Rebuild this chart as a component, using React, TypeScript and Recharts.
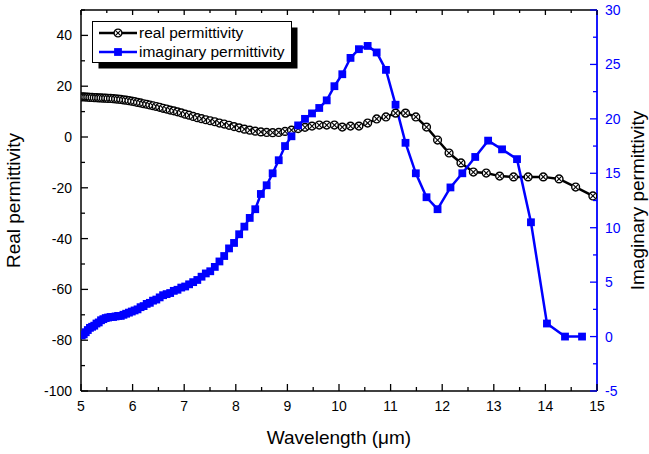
import React from 'react';
import { LineChart, Line, XAxis, YAxis, Legend } from 'recharts';

// wavelength (µm) and real part of permittivity
const realWavelength = [
  5.014, 5.053, 5.092, 5.132, 5.173, 5.215, 5.257, 5.3, 5.344, 5.388, 5.433, 5.479, 5.525, 5.573, 5.621, 5.67, 5.72, 5.771, 5.823, 5.875, 5.929, 5.984,
  6.039, 6.096, 6.154, 6.213, 6.273, 6.334, 6.396, 6.46, 6.525, 6.591, 6.659, 6.728, 6.798, 6.87, 6.943,
  7.019, 7.095, 7.174, 7.254, 7.336, 7.419, 7.505, 7.593, 7.683, 7.775, 7.869, 7.966,
  8.065, 8.166, 8.27, 8.377, 8.486, 8.598, 8.714, 8.832, 8.954,
  9.079, 9.208, 9.341, 9.477, 9.617, 9.762, 9.911,
  10.064, 10.223, 10.386, 10.555, 10.73, 10.91,
  11.096, 11.289, 11.489, 11.696, 11.91,
  12.133, 12.364, 12.604, 12.853,
  13.113, 13.383, 13.665, 13.959,
  14.265, 14.586, 14.92,
];
const realValue = [
  15.8, 15.8, 15.7, 15.7, 15.6, 15.6, 15.5, 15.5, 15.4, 15.4, 15.3, 15.3, 15.2, 15.2, 15.1, 15.0, 14.9, 14.8, 14.6, 14.5, 14.3, 14.1,
  13.9, 13.6, 13.4, 13.1, 12.9, 12.6, 12.3, 12.0, 11.7, 11.3, 11.0, 10.6, 10.3, 9.9, 9.5,
  9.0, 8.6, 8.1, 7.6, 7.2, 6.8, 6.4, 6.0, 5.5, 5.1, 4.6, 4.1,
  3.6, 3.1, 2.7, 2.3, 2.0, 1.8, 1.7, 1.8, 2.2,
  2.7, 3.3, 3.8, 4.3, 4.7, 4.7, 4.7,
  3.9, 4.3, 4.3, 5.5, 7.1, 7.9,
  9.4, 9.4, 7.9, 3.9, -1.2,
  -6.3, -10.2, -13.8, -14.2,
  -15.4, -15.7, -15.7, -15.7,
  -16.5, -19.7, -23.2,
];

// wavelength (µm) and imaginary part of permittivity
const imagWavelength = [
  5.014, 5.053, 5.092, 5.132, 5.173, 5.215, 5.257, 5.3, 5.344, 5.388, 5.433, 5.479, 5.525, 5.573, 5.621, 5.67, 5.72, 5.771, 5.823, 5.875, 5.929, 5.984,
  6.039, 6.096, 6.154, 6.213, 6.273, 6.334, 6.396, 6.46, 6.525, 6.591, 6.659, 6.728, 6.798, 6.87, 6.943,
  7.019, 7.095, 7.174, 7.254, 7.336, 7.419, 7.505, 7.593, 7.683, 7.775, 7.869, 7.966,
  8.065, 8.166, 8.27, 8.377, 8.486, 8.598, 8.714, 8.832, 8.954,
  9.079, 9.208, 9.341, 9.477, 9.617, 9.762, 9.911,
  10.064, 10.223, 10.386, 10.555, 10.73, 10.91,
  11.096, 11.289, 11.489, 11.696, 11.91,
  12.16, 12.39, 12.64, 12.89, 13.16, 13.45, 13.72, 14.03, 14.38, 14.71,
];
const imagValue = [
  0.1, 0.2, 0.4, 0.6, 0.8, 0.9, 1.0, 1.2, 1.3, 1.5, 1.6, 1.7, 1.75, 1.8, 1.8, 1.85, 1.9, 1.9, 2.0, 2.1, 2.2, 2.3,
  2.4, 2.5, 2.7, 2.8, 3.0, 3.1, 3.3, 3.4, 3.6, 3.8, 3.9, 4.0, 4.2, 4.3, 4.5,
  4.6, 4.8, 5.0, 5.2, 5.5, 5.8, 6.0, 6.4, 6.9, 7.4, 8.1, 8.6,
  9.4, 10.1, 10.9, 11.7, 13.1, 13.9, 15.0, 16.2, 17.5,
  18.4, 19.4, 20.0, 20.5, 21.0, 21.7, 23.0,
  24.1, 25.6, 26.4, 26.7, 26.1, 24.5,
  21.3, 17.8, 15.0, 12.8, 11.7,
  13.7, 15.0, 16.5, 18.0, 17.2, 16.3, 10.5, 1.2, 0, 0,
];

// axis ticks (minor ones get no label)
const xTicks = [5, 5.5, 6, 6.5, 7, 7.5, 8, 8.5, 9, 9.5, 10, 10.5, 11, 11.5, 12, 12.5, 13, 13.5, 14, 14.5, 15];
const xLabelled = [5, 6, 7, 8, 9, 10, 11, 12, 13, 14, 15];
const leftTicks = [-100, -90, -80, -70, -60, -50, -40, -30, -20, -10, 0, 10, 20, 30, 40, 50];
const leftLabelled = [-100, -80, -60, -40, -20, 0, 20, 40];
const rightTicks = [-5, -2.5, 0, 2.5, 5, 7.5, 10, 12.5, 15, 17.5, 20, 22.5, 25, 27.5, 30];
const rightLabelled = [-5, 0, 5, 10, 15, 20, 25, 30];
const legendOrder = ['real', 'imag'];

const realData = realWavelength.map((w, i) => ({ w, real: realValue[i] }));
const imagData = imagWavelength.map((w, i) => ({ w, imag: imagValue[i] }));

const FONT = '"Liberation Sans", Arial, Helvetica, sans-serif';
const BLUE = '#0000ff';

const BottomTick = (props: any) => {
  const { x, y, payload } = props;
  const major = xLabelled.includes(payload.value);
  return (
    <g>
      <line x1={x} x2={x} y1={y} y2={y - (major ? 7 : 4)} stroke="#000" strokeWidth={1.3} />
      {major && (
        <text x={x} y={y + 20} textAnchor="middle" fontSize={14} fontFamily={FONT} fill="#000">
          {payload.value}
        </text>
      )}
    </g>
  );
};

const TopTick = (props: any) => {
  const { x, y, payload } = props;
  const major = xLabelled.includes(payload.value);
  return <line x1={x} x2={x} y1={y} y2={y + (major ? 5 : 3)} stroke="#000" strokeWidth={1.3} />;
};

const LeftTick = (props: any) => {
  const { x, y, payload } = props;
  const major = leftLabelled.includes(payload.value);
  return (
    <g>
      <line x1={x} x2={x + (major ? 7 : 4)} y1={y} y2={y} stroke="#000" strokeWidth={1.3} />
      {major && (
        <text x={x - 9} y={y + 5} textAnchor="end" fontSize={14} fontFamily={FONT} fill="#000">
          {payload.value}
        </text>
      )}
    </g>
  );
};

const RightTick = (props: any) => {
  const { x, y, payload } = props;
  const major = rightLabelled.includes(payload.value);
  return (
    <g>
      <line x1={x} x2={x - (major ? 7 : 4)} y1={y} y2={y} stroke={BLUE} strokeWidth={1.3} />
      {major && (
        <text x={x + 8} y={y + 5} textAnchor="start" fontSize={14} fontFamily={FONT} fill={BLUE}>
          {payload.value}
        </text>
      )}
    </g>
  );
};

const CrossCircle = (props: any) => {
  const { cx, cy } = props;
  if (cx == null || cy == null) return null;
  const r = 3.9;
  const d = r * 0.7;
  return (
    <g>
      <circle cx={cx} cy={cy} r={r} fill="#fff" stroke="#000" strokeWidth={1.4} />
      <line x1={cx - d} y1={cy - d} x2={cx + d} y2={cy + d} stroke="#000" strokeWidth={1.1} />
      <line x1={cx - d} y1={cy + d} x2={cx + d} y2={cy - d} stroke="#000" strokeWidth={1.1} />
    </g>
  );
};

const BlueSquare = (props: any) => {
  const { cx, cy } = props;
  if (cx == null || cy == null) return null;
  const s = 7.8;
  return <rect x={cx - s / 2} y={cy - s / 2} width={s} height={s} fill={BLUE} />;
};

const LegendBox = (props: any) => {
  const items = [...(props.payload || [])].sort(
    (a: any, b: any) => legendOrder.indexOf(a.dataKey) - legendOrder.indexOf(b.dataKey)
  );
  return (
    <svg width={208} height={50} style={{ display: 'block' }}>
      <rect x={6.5} y={6.5} width={199} height={41} fill="#000" />
      <rect x={0.5} y={0.5} width={199} height={41} fill="#fff" stroke="#000" strokeWidth={1} />
      {items.map((entry: any, i: number) => {
        const cy = 12 + i * 19;
        const isReal = entry.dataKey === 'real';
        return (
          <g key={entry.value}>
            <line x1={7} x2={45} y1={cy} y2={cy} stroke={entry.color} strokeWidth={2.5} />
            {isReal ? <CrossCircle cx={26} cy={cy} /> : <BlueSquare cx={26} cy={cy} />}
            <text x={47} y={cy + 5} fontSize={15.5} fontFamily={FONT} fill="#000">
              {entry.value}
            </text>
          </g>
        );
      })}
    </svg>
  );
};

const App: React.FC = () => {
  return (
    <div style={{ position: 'absolute', left: 0, top: 0 }}>
      <LineChart width={649} height={454} margin={{ top: 0, right: 0, bottom: 0, left: 0 }}>
        <XAxis
          xAxisId="bottom"
          type="number"
          dataKey="w"
          domain={[5, 15]}
          ticks={xTicks}
          interval={0}
          height={63}
          tickSize={0}
          tickMargin={0}
          tickLine={false}
          tick={<BottomTick />}
          axisLine={{ stroke: '#000', strokeWidth: 1.5 }}
          allowDataOverflow
          label={{ value: 'Wavelength (μm)', position: 'insideBottom', offset: 10, fontSize: 19, fontFamily: FONT, fill: '#000' }}
        />
        <XAxis
          xAxisId="top"
          orientation="top"
          type="number"
          dataKey="w"
          domain={[5, 15]}
          ticks={xTicks}
          interval={0}
          height={10}
          tickSize={0}
          tickMargin={0}
          tickLine={false}
          tick={<TopTick />}
          axisLine={{ stroke: '#000', strokeWidth: 1.5 }}
          allowDataOverflow
        />
        <YAxis
          yAxisId="left"
          type="number"
          domain={[-100, 50]}
          ticks={leftTicks}
          interval={0}
          width={81}
          tickSize={0}
          tickMargin={0}
          tickLine={false}
          tick={<LeftTick />}
          axisLine={{ stroke: '#000', strokeWidth: 1.5 }}
          allowDataOverflow
          label={{ value: 'Real permittivity', angle: -90, position: 'insideLeft', offset: 13, fontSize: 19, fontFamily: FONT, fill: '#000', style: { textAnchor: 'middle' } }}
        />
        <YAxis
          yAxisId="right"
          orientation="right"
          type="number"
          domain={[-5, 30]}
          ticks={rightTicks}
          interval={0}
          width={52}
          tickSize={0}
          tickMargin={0}
          tickLine={false}
          tick={<RightTick />}
          axisLine={{ stroke: BLUE, strokeWidth: 1.8 }}
          allowDataOverflow
          label={{ value: 'Imaginary permittivity', angle: -90, position: 'insideRight', offset: 12, fontSize: 19, fontFamily: FONT, fill: '#000', style: { textAnchor: 'middle' } }}
        />
        <Legend
          layout="vertical"
          align="center"
          verticalAlign="middle"
          content={<LegendBox />}
          wrapperStyle={{ left: 92, top: 21, width: 208, height: 50 }}
        />
        <Line
          xAxisId="bottom"
          yAxisId="left"
          data={realData}
          dataKey="real"
          name="real permittivity"
          type="linear"
          stroke="#000"
          strokeWidth={2.5}
          dot={<CrossCircle />}
          activeDot={false}
          isAnimationActive={false}
        />
        <Line
          xAxisId="bottom"
          yAxisId="right"
          data={imagData}
          dataKey="imag"
          name="imaginary permittivity"
          type="linear"
          stroke={BLUE}
          strokeWidth={2.5}
          dot={<BlueSquare />}
          activeDot={false}
          isAnimationActive={false}
        />
      </LineChart>
    </div>
  );
};

export default App;
